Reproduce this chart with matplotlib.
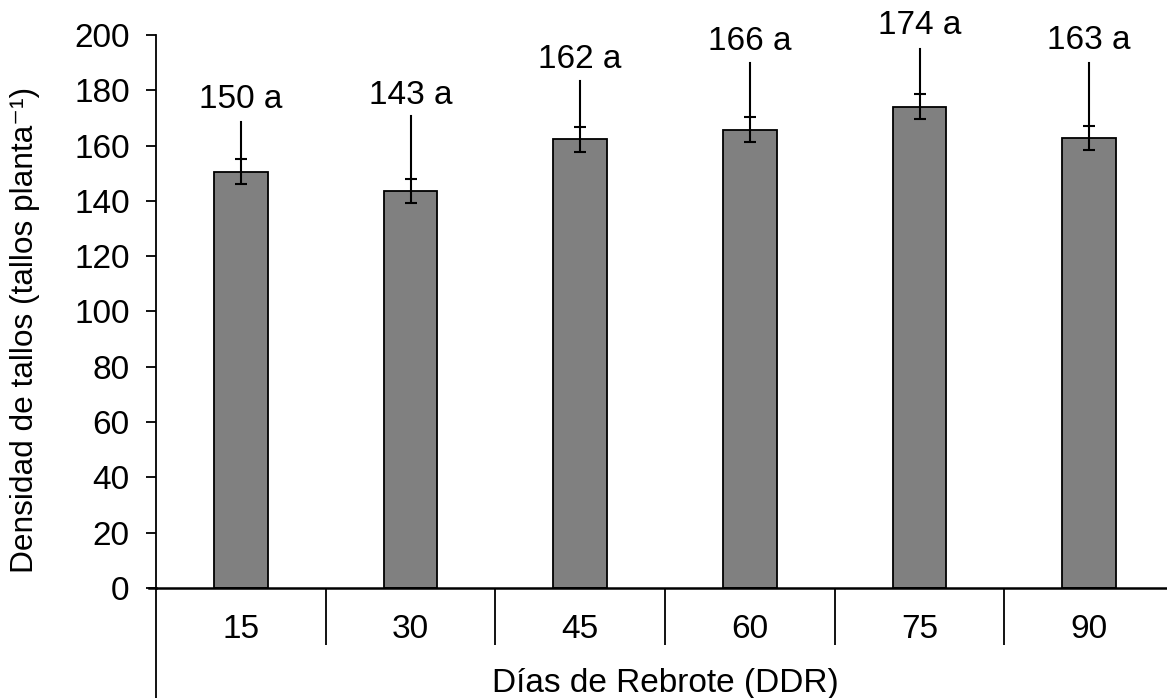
import numpy as np
import matplotlib
matplotlib.use("Agg")
from matplotlib import pyplot as plt

plt.rcParams['font.family'] = ['Liberation Sans', 'DejaVu Sans']

# datos
dias = ["15", "30", "45", "60", "75", "90"]
densidad = [150.5, 143.5, 162.2, 165.8, 174.0, 162.8]
error = [4.5, 4.3, 4.5, 4.4, 4.5, 4.4]
etiquetas = ["150 a", "143 a", "162 a", "166 a", "174 a", "163 a"]
etiq_y = [176.5, 178.0, 191.3, 197.5, 203.5, 198.0]   # centro del texto
linea_top = [168.5, 170.7, 183.4, 190.0, 195.0, 190.0]  # fin de la linea guia

fs = 24
fig = plt.figure(figsize=(11.67, 6.98), dpi=100)
ax = fig.add_axes([0.1337, 0.1576, 0.8723, 0.7923])

x = np.arange(len(dias))
ax.bar(x, densidad, width=0.318, color="#808080", edgecolor="black", linewidth=1.3, zorder=2)
ax.errorbar(x, densidad, yerr=error, fmt="none", ecolor="black", elinewidth=1.5,
            capsize=4.3, capthick=1.5, zorder=3)
for i in range(len(dias)):
    ax.plot([x[i], x[i]], [densidad[i] + error[i], linea_top[i]], color="black", lw=1.5, zorder=3)
    ax.text(x[i], etiq_y[i], etiquetas[i], ha="center", va="center", fontsize=fs, clip_on=False)

ax.set_xlim(-0.5, 5.5)
ax.set_ylim(0, 200)
ax.set_yticks(np.arange(0, 201, 20))
ax.tick_params(axis="y", labelsize=fs, length=7, width=1.3, pad=12)
ax.set_xticks(x)
ax.set_xticklabels(dias)
ax.set_xticks(np.arange(0.5, 5.0, 1.0), minor=True)
ax.tick_params(axis="x", which="major", length=0, labelsize=fs, pad=19)
ax.tick_params(axis="x", which="minor", length=41, width=1.3)

for s in ["top", "right"]:
    ax.spines[s].set_visible(False)
ax.spines["left"].set_linewidth(1.3)
ax.spines["bottom"].set_linewidth(1.8)
ax.plot([0, 0], [0, -0.2], transform=ax.transAxes, color="black", lw=1.3, clip_on=False)
ax.plot([-7 / 1018, 0], [0, 0], transform=ax.transAxes, color="black", lw=1.8, clip_on=False)

ax.set_ylabel("Densidad de tallos (tallos planta\u207b\u00b9)", fontsize=22.8)
ax.yaxis.set_label_coords(-0.129, 0.467)
ax.yaxis.label.set_va("center")
ax.set_xlabel("Días de Rebrote (DDR)", fontsize=fs)
ax.xaxis.set_label_coords(0.5, -0.172)
ax.xaxis.label.set_va("center")

fig.savefig("out.png", dpi=100)
